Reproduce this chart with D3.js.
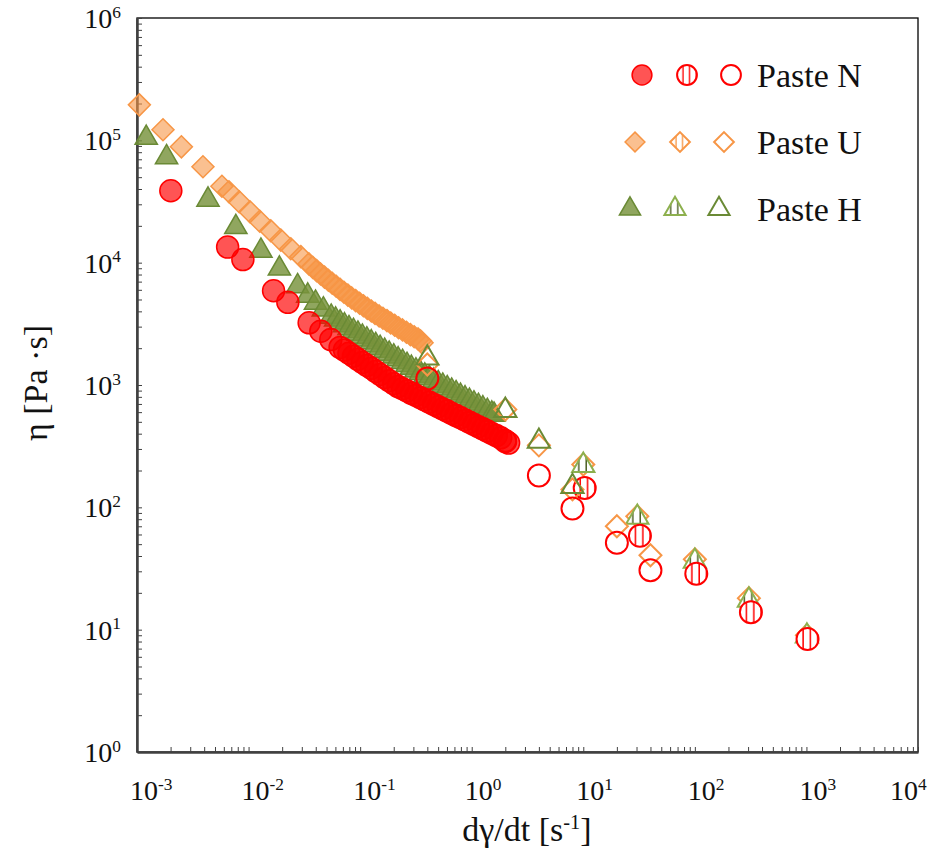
<!DOCTYPE html>
<html><head><meta charset="utf-8">
<script src="https://cdn.jsdelivr.net/npm/d3@7"></script>
<style>body{margin:0;background:#fff} svg{display:block}</style>
</head><body>
<svg id="chart" width="935" height="851"></svg>
<script>
// ---------------- DATA (shear rate [1/s], viscosity [Pa·s]) ----------------
const seriesNames = ["Paste N", "Paste U", "Paste H"];
const xTickExponents = [-3, -2, -1, 0, 1, 2, 3, 4];
const yTickExponents = [0, 1, 2, 3, 4, 5, 6];

// filled markers (dense bands read along the visible band)
const nFilled = [[0.00201,38700],[0.00649,13400],[0.00889,10600],[0.01675,5900],[0.0225,4740],[0.0349,3220],[0.0444,2750],[0.0546,2350],[0.0661,2030],[0.0724,1930],[0.0794,1820],[0.0871,1720],[0.0955,1620],[0.1047,1530],[0.1148,1445],[0.1259,1370],[0.138,1290],[0.151,1220],[0.166,1150],[0.182,1085],[0.200,1025],[0.219,970],[0.240,931],[0.263,893],[0.288,855],[0.316,820],[0.347,787],[0.380,755],[0.417,723],[0.457,693],[0.501,665],[0.550,638],[0.603,612],[0.661,586],[0.724,562],[0.794,540],[0.871,518],[0.955,497],[1.047,475],[1.148,456],[1.259,438],[1.380,420],[1.514,402],[1.660,386],[1.820,370],[1.995,352],[2.14,335]];
const uFilled = [[0.00105,195000],[0.00171,122000],[0.0025,88500],[0.0039,60800],[0.00577,42100],[0.00667,38000],[0.00824,31500],[0.01028,26100],[0.0126,21800],[0.0158,18250],[0.01945,15300],[0.0239,13000],[0.0294,11200],[0.0347,9770],[0.0376,9160],[0.0407,8610],[0.0442,8090],[0.0479,7620],[0.0519,7190],[0.0562,6790],[0.0610,6410],[0.0661,6050],[0.0716,5730],[0.0776,5430],[0.0841,5150],[0.0912,4900],[0.0989,4660],[0.107,4440],[0.116,4230],[0.126,4030],[0.136,3850],[0.148,3670],[0.160,3510],[0.174,3360],[0.188,3210],[0.204,3080],[0.221,2940],[0.24,2820],[0.260,2700],[0.282,2580],[0.305,2480],[0.331,2380],[0.347,2300],[0.359,2210]];
const hFilled = [[0.00121,104700],[0.00184,72600],[0.00433,32700],[0.00769,19500],[0.0129,12500],[0.0189,8930],[0.0275,6410],[0.0339,5370],[0.0398,4700],[0.0468,4140],[0.0550,3610],[0.0603,3420],[0.0661,3240],[0.0724,3070],[0.0794,2910],[0.0871,2760],[0.0955,2620],[0.1047,2480],[0.1148,2355],[0.1259,2230],[0.138,2115],[0.151,2005],[0.166,1900],[0.182,1800],[0.200,1710],[0.219,1620],[0.240,1540],[0.263,1455],[0.288,1380],[0.316,1312],[0.347,1250],[0.380,1191],[0.417,1137],[0.457,1084],[0.501,1033],[0.550,986],[0.603,940],[0.661,896],[0.724,855],[0.794,815],[0.871,776],[0.955,741],[1.047,706],[1.148,673],[1.259,643],[1.380,612],[1.514,583],[1.585,570]];

// striped (hatched) markers
const nStriped = [[10.3,144],[32.2,58.5],[103,28.7],[318,13.9],[1023,8.37]];
const uStriped = [[10,224],[30.5,84.5],[100,37.6],[305,18.1],[1010,9.0]];
const hStriped = [[10,220],[30.5,82.8],[100,36.2],[305,17.4],[1010,8.85]];

// open markers
const nOpen = [[0.4,1130],[2,346],[4,182],[8,98],[20,51.3],[40,30.6]];
const uOpen = [[0.4,1470],[2,631],[4,321],[8,140],[20,70],[40,40.6]];
const hOpen = [[0.4,1660],[2,619],[4,346],[8,148]];

// ---------------- CHART ----------------
const svg = d3.select("#chart");
const FONT = "'Liberation Serif','Times New Roman',serif";
const L = 137, R = 918, T = 18, B = 752;
const x = d3.scaleLog().domain([1e-3, 1e4]).range([L, R]);
const y = d3.scaleLog().domain([1, 1e6]).range([B, T]);

const RED = "#FF0000", ORANGE = "#F79646", GREEN = "#77933C";

// patterns for striped markers (vertical bars)
const defs = svg.append("defs");
function stripePattern(id, color) {
  const p = defs.append("pattern").attr("id", id)
    .attr("patternUnits", "objectBoundingBox").attr("patternContentUnits", "objectBoundingBox")
    .attr("width", 1/3).attr("height", 1).attr("x", 0).attr("y", 0);
  p.append("rect").attr("width", 1/3).attr("height", 1).attr("fill", "#fff");
  p.append("rect").attr("x", 0.265).attr("width", 0.14).attr("height", 1).attr("fill", color);
}
stripePattern("stripeRed", RED);
stripePattern("stripeOrange", ORANGE);
stripePattern("stripeGreen", "#4F6228");

// frame
svg.append("rect").attr("x", L).attr("y", T).attr("width", R - L).attr("height", B - T)
  .attr("fill", "none").attr("stroke", "#000").attr("stroke-width", 1.3);

// axes (ticks inside)
function decadeTicks(lo, hi) {
  const out = [];
  for (let e = lo; e < hi; e++) for (let m = 1; m < 10; m++) out.push(m * Math.pow(10, e));
  out.push(Math.pow(10, hi));
  return out;
}
const xAxis = d3.axisBottom(x).tickValues(decadeTicks(-3, 4)).tickSizeInner(-5).tickSizeOuter(0).tickFormat(() => "");
const yAxis = d3.axisLeft(y).tickValues(decadeTicks(0, 6)).tickSizeInner(-5).tickSizeOuter(0).tickFormat(() => "");
const gx = svg.append("g").attr("transform", `translate(0,${B})`).call(xAxis);
const gy = svg.append("g").attr("transform", `translate(${L},0)`).call(yAxis);
[gx, gy].forEach(g => {
  g.select(".domain").attr("stroke", "#404040").attr("stroke-width", 2.5);
  g.selectAll(".tick line").attr("stroke", "#404040").attr("stroke-width", 1);
});

// tick labels
const TICK_FS = 28;
function powerLabel(sel, exp) {
  sel.append("tspan").text("10");
  sel.append("tspan").attr("dy", "-0.6em").attr("font-size", "0.62em").text(String(exp));
}
xTickExponents.forEach(e => {
  const t = svg.append("text").attr("x", x(Math.pow(10, e)) - TICK_FS / 2 + 7).attr("y", 800)
    .attr("text-anchor", "start").attr("font-family", FONT).attr("font-size", TICK_FS).attr("fill", "#111");
  powerLabel(t, e);
  const bb = t.node().getBBox();
  if (bb.x + bb.width > 927) t.attr("x", 927 - bb.width);
});
yTickExponents.forEach(e => {
  const t = svg.append("text").attr("x", 121).attr("y", y(Math.pow(10, e)) + 10)
    .attr("text-anchor", "end").attr("font-family", FONT).attr("font-size", TICK_FS).attr("fill", "#111");
  powerLabel(t, e);
});

// axis titles
const xt = svg.append("text").attr("x", 527).attr("y", 841).attr("text-anchor", "middle")
  .attr("font-family", FONT).attr("font-size", 34).attr("fill", "#111");
xt.append("tspan").text("dγ/dt [s");
xt.append("tspan").attr("dy", "-0.6em").attr("font-size", "0.6em").text("-1");
xt.append("tspan").attr("dy", "0.36em").text("]");

svg.append("text").attr("transform", "translate(47,383) rotate(-90)").attr("text-anchor", "middle")
  .attr("font-family", FONT).attr("font-size", 34).attr("fill", "#111").text("η [Pa ·s]");

// markers
const diamondType = {
  draw(ctx, size) {
    const h = Math.sqrt(size / 2);
    ctx.moveTo(0, -h); ctx.lineTo(h, 0); ctx.lineTo(0, h); ctx.lineTo(-h, 0); ctx.closePath();
  }
};
const shapes = {
  circle: d3.symbol().type(d3.symbolCircle).size(Math.PI * 11 * 11)(),
  diamond: d3.symbol().type(diamondType).size(242)(),
  triangle: d3.symbol().type(d3.symbolTriangle).size(215)()
};

function drawSeries(data, shape, style) {
  svg.append("g").selectAll("path").data(data).join("path")
    .attr("d", shapes[shape])
    .attr("transform", d => `translate(${x(d[0])},${y(d[1])})`)
    .attr("fill", style.fill).attr("fill-opacity", style.fillOpacity ?? 1)
    .attr("stroke", style.stroke).attr("stroke-width", style.sw);
}
const styles = {
  U: { filled: { fill: ORANGE, fillOpacity: 0.6, stroke: ORANGE, sw: 1.5 },
       striped: { fill: "url(#stripeOrange)", stroke: ORANGE, sw: 2 },
       open: { fill: "none", stroke: ORANGE, sw: 2 } },
  H: { filled: { fill: GREEN, fillOpacity: 0.82, stroke: "#6A8A35", sw: 1.5 },
       striped: { fill: "url(#stripeGreen)", stroke: "#8DB04E", sw: 2 },
       open: { fill: "none", stroke: "#6A8A35", sw: 2 } },
  N: { filled: { fill: RED, fillOpacity: 0.67, stroke: RED, sw: 1.5 },
       striped: { fill: "url(#stripeRed)", stroke: RED, sw: 2 },
       open: { fill: "none", stroke: RED, sw: 2 } }
};

drawSeries(uFilled, "diamond", styles.U.filled);
drawSeries(hFilled, "triangle", styles.H.filled);
drawSeries(nFilled, "circle", styles.N.filled);
drawSeries(uStriped, "diamond", styles.U.striped);
drawSeries(hStriped, "triangle", styles.H.striped);
drawSeries(nStriped, "circle", styles.N.striped);
drawSeries(uOpen, "diamond", styles.U.open);
drawSeries(hOpen, "triangle", styles.H.open);
drawSeries(nOpen, "circle", styles.N.open);

// legend
const legendRows = [
  { key: "N", shape: "circle", y: 75, xs: [642, 687, 731], scale: 0.9 },
  { key: "U", shape: "diamond", y: 142, xs: [635, 680, 724], scale: 0.9 },
  { key: "H", shape: "triangle", y: 209, xs: [630, 675, 719], scale: 0.95 }
];
legendRows.forEach((row, i) => {
  const st = styles[row.key];
  [st.filled, st.striped, st.open].forEach((s, j) => {
    svg.append("path").attr("d", shapes[row.shape])
      .attr("transform", `translate(${row.xs[j]},${row.y}) scale(${row.scale})`)
      .attr("fill", s.fill).attr("fill-opacity", s.fillOpacity ?? 1)
      .attr("stroke", s.stroke).attr("stroke-width", s.sw / row.scale);
  });
  svg.append("text").attr("x", 757).attr("y", row.y + 12)
    .attr("font-family", FONT).attr("font-size", 34).attr("fill", "#111").text(seriesNames[i]);
});
</script>
</body></html>
